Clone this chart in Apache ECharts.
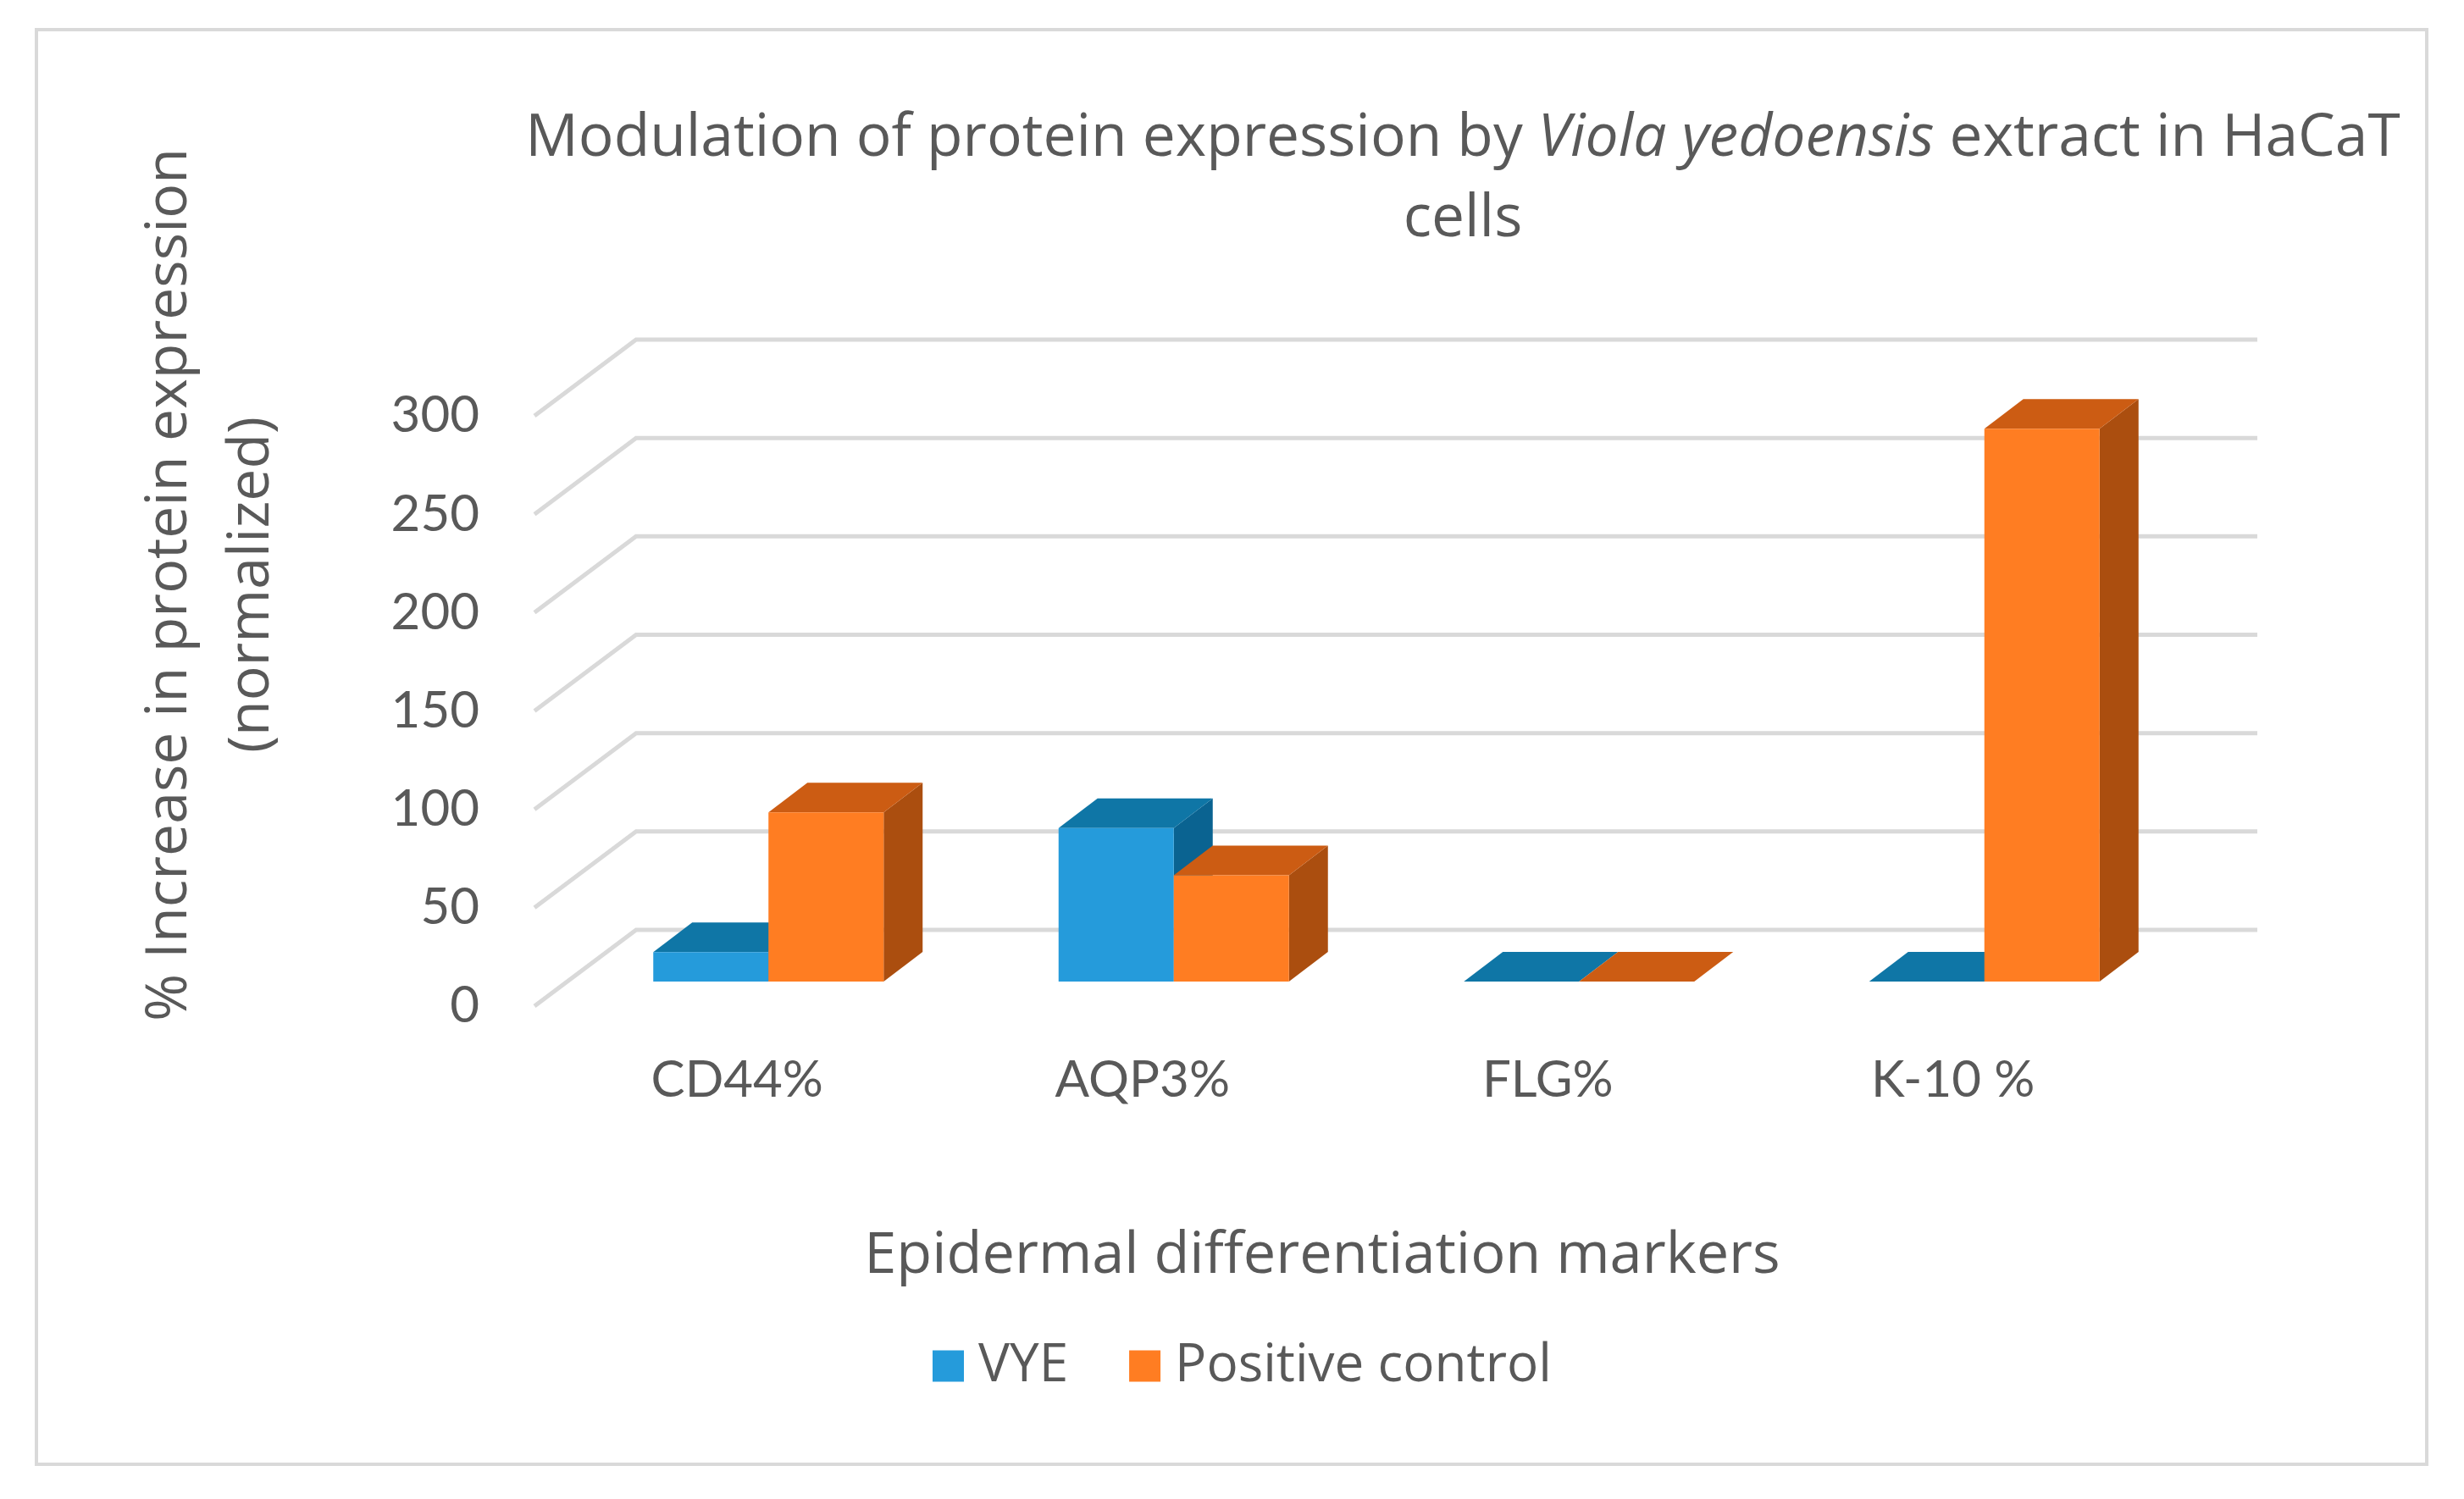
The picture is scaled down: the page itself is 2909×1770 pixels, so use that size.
<!DOCTYPE html>
<html><head><meta charset="utf-8">
<style>html,body{margin:0;padding:0;background:#fff}#c{width:2909px;height:1770px}</style>
<script src="https://cdn.jsdelivr.net/npm/echarts@6/dist/echarts.min.js"></script>
</head><body><div id="c"></div>
<script>
const categories = ['CD44%', 'AQP3%', 'FLG%', 'K-10 %'];
const vye = [15, 78, 0, 0];
const positiveControl = [86, 54, 0, 281];
const yTicks = [0, 50, 100, 150, 200, 250, 300];
const seriesNames = ['VYE', 'Positive control'];

const TEXT = '#595959', FONT = 'Lato', BIG = 'Open Sans', GRID = '#D9D9D9';
const WALL = [120, 90], BAR_OFFSET = [37, 29], BAR_DEPTH = [46, 35], BAR_W = 136;
const blue = {front: '#259BDB', top: '#0F76A6', side: '#0A6391'};
const orange = {front: '#FF7D22', top: '#CC5C13', side: '#AB4E0F'};

function barItem(slot, pal) {
  return function (params, api) {
    const base = api.coord([api.value(0), 0]);
    const top = api.coord([api.value(0), api.value(1)]);
    const x0 = base[0] + BAR_OFFSET[0] + (slot - 1) * BAR_W, x1 = x0 + BAR_W;
    const yb = base[1] - BAR_OFFSET[1], yt = top[1] - BAR_OFFSET[1];
    const dx = BAR_DEPTH[0], dy = BAR_DEPTH[1];
    const poly = (pts, fill) => ({type: 'polygon', shape: {points: pts}, style: {fill: fill}});
    return {type: 'group', children: [
      poly([[x1, yb], [x1 + dx, yb - dy], [x1 + dx, yt - dy], [x1, yt]], pal.side),
      poly([[x0, yt], [x1, yt], [x1 + dx, yt - dy], [x0 + dx, yt - dy]], pal.top),
      poly([[x0, yb], [x1, yb], [x1, yt], [x0, yt]], pal.front)
    ]};
  };
}
function gridItem(params, api) {
  const cs = params.coordSys, y = api.coord([categories[0], api.value(0)])[1];
  return {type: 'polyline', shape: {points: [
    [cs.x, y], [cs.x + WALL[0], y - WALL[1]], [cs.x + cs.width + WALL[0], y - WALL[1]]
  ]}, style: {fill: null, stroke: GRID, lineWidth: 5}};
}

const chart = echarts.init(document.getElementById('c'), null, {renderer: 'canvas'});
chart.setOption({
  animation: false,
  backgroundColor: '#fff',
  textStyle: {fontFamily: FONT},
  title: {
    left: 1722, top: 112, textAlign: 'center',
    text: '{r|Modulation of protein expression by }{i|Viola yedoensis}{r| extract in HaCaT}\n{r|cells}',
    textStyle: {
      fontWeight: 'normal',
      rich: {
        r: {fontFamily: BIG, fontSize: 69.5, fontWeight: 'normal', color: TEXT, lineHeight: 95},
        i: {fontFamily: BIG, fontSize: 69.5, fontWeight: 'normal', color: TEXT, lineHeight: 95, fontStyle: 'italic'}
      }
    }
  },
  grid: {left: 631, top: 491, right: 364, bottom: 582, containLabel: false},
  xAxis: {
    type: 'category', data: categories,
    axisLine: {show: false}, axisTick: {show: false},
    axisLabel: {color: TEXT, fontSize: 60, fontFamily: FONT, margin: 58},
    name: 'Epidermal differentiation markers', nameLocation: 'middle', nameGap: 261,
    nameTextStyle: {color: TEXT, fontSize: 68.5, fontFamily: BIG, padding: [0, 54, 0, 0]}
  },
  yAxis: {
    type: 'value', min: 0, max: 300, interval: 50,
    axisLine: {show: false}, axisTick: {show: false}, splitLine: {show: false},
    axisLabel: {color: TEXT, fontSize: 60, fontFamily: FONT, margin: 65, padding: [8, 0, 0, 0]},
    name: '% Increase in protein expression\n(normalized)', nameLocation: 'middle', nameGap: 285,
    nameTextStyle: {color: TEXT, fontSize: 68, fontFamily: BIG, lineHeight: 97, padding: [0, 0, 0, 298]}
  },
  legend: {
    data: seriesNames, left: 1096, top: 1577, itemWidth: 37, itemHeight: 37, itemGap: 72,
    icon: 'rect',
    textStyle: {color: TEXT, fontSize: 62, fontFamily: BIG, padding: [0, 0, 0, 12]}
  },
  graphic: [{
    type: 'rect', z: -10, silent: true,
    shape: {x: 43, y: 35, width: 2822, height: 1694},
    style: {fill: '#fff', stroke: GRID, lineWidth: 4}
  }],
  series: [
    {name: 'grid', type: 'custom', renderItem: gridItem, data: yTicks.map(v => [v]), encode: {y: 0}, z: 1, silent: true},
    {name: seriesNames[0], type: 'custom', renderItem: barItem(0, blue), z: 2,
     itemStyle: {color: blue.front}, encode: {x: 0, y: 1},
     data: categories.map((c, i) => [c, vye[i]])},
    {name: seriesNames[1], type: 'custom', renderItem: barItem(1, orange), z: 3,
     itemStyle: {color: orange.front}, encode: {x: 0, y: 1},
     data: categories.map((c, i) => [c, positiveControl[i]])}
  ]
});
</script></body></html>
